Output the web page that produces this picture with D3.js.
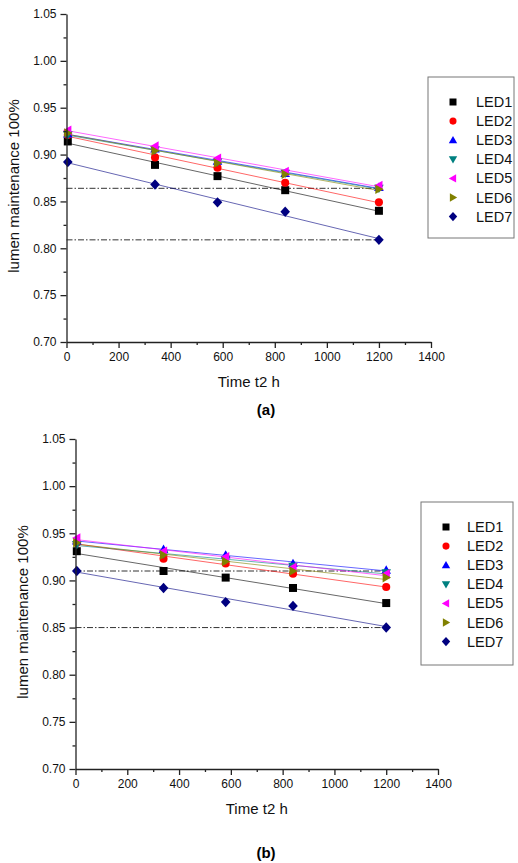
<!DOCTYPE html>
<html>
<head>
<meta charset="utf-8">
<script src="https://cdn.jsdelivr.net/npm/d3@7"></script>
<style>
  body { margin: 0; background: #fff; }
  svg { display: block; font-family: Arial, "Liberation Sans", sans-serif; }
  .axis path, .axis line { stroke: #222; stroke-width: 1.3; }
  .axis text { font-size: 12px; fill: #111; }
  .title { font-size: 15px; fill: #111; }
  .legend text { font-size: 14.5px; fill: #111; }
</style>
</head>
<body>
<div id="chart"></div>
<script>
// time points (h)
var times = [5, 340, 580, 840, 1200];
var ledNames = ["LED1", "LED2", "LED3", "LED4", "LED5", "LED6", "LED7"];
var ledColors = ["#000000", "#ff0000", "#0000ff", "#008080", "#ff00ff", "#808000", "#000080"];
var ledSymbols = ["square", "circle", "up", "down", "left", "right", "diamond"];

// panel (a)
var led1A = [0.914, 0.889, 0.877, 0.862, 0.840];
var led2A = [0.921, 0.897, 0.886, 0.870, 0.849];
var led3A = [0.922, 0.906, 0.893, 0.880, 0.865];
var led4A = [0.921, 0.905, 0.892, 0.880, 0.864];
var led5A = [0.926, 0.909, 0.896, 0.882, 0.867];
var led6A = [0.923, 0.904, 0.891, 0.879, 0.863];
var led7A = [0.892, 0.868, 0.849, 0.839, 0.809];
var limitsA = [0.864, 0.809];

// panel (b)
var led1B = [0.931, 0.910, 0.903, 0.892, 0.876];
var led2B = [0.940, 0.923, 0.918, 0.907, 0.893];
var led3B = [0.942, 0.933, 0.927, 0.918, 0.911];
var led4B = [0.938, 0.928, 0.922, 0.915, 0.908];
var led5B = [0.945, 0.931, 0.925, 0.914, 0.907];
var led6B = [0.940, 0.927, 0.920, 0.910, 0.903];
var led7B = [0.910, 0.892, 0.877, 0.873, 0.850];
var limitsB = [0.910, 0.850];

var xTicks = [0, 200, 400, 600, 800, 1000, 1200, 1400];
var xMinor = [100, 300, 500, 700, 900, 1100, 1300];
var yTicks = [0.70, 0.75, 0.80, 0.85, 0.90, 0.95, 1.00, 1.05];
var yMinor = [0.725, 0.775, 0.825, 0.875, 0.925, 0.975, 1.025];

var width = 518, height = 863;
var svg = d3.select("#chart").append("svg")
  .attr("width", width)
  .attr("height", height);
svg.append("rect").attr("width", width).attr("height", height).attr("fill", "#fff");

function symbolPath(kind, size) {
  var s = size;
  if (kind == "square") return `M${-s/2},${-s/2}h${s}v${s}h${-s}Z`;
  if (kind == "circle") return d3.symbol(d3.symbolCircle, s*s*0.8)();
  if (kind == "up") return `M0,${-s*0.6}L${s*0.6},${s*0.45}L${-s*0.6},${s*0.45}Z`;
  if (kind == "down") return `M0,${s*0.6}L${s*0.6},${-s*0.45}L${-s*0.6},${-s*0.45}Z`;
  if (kind == "left") return `M${-s*0.6},0L${s*0.45},${-s*0.6}L${s*0.45},${s*0.6}Z`;
  if (kind == "right") return `M${s*0.6},0L${-s*0.45},${-s*0.6}L${-s*0.45},${s*0.6}Z`;
  if (kind == "diamond") return `M0,${-s*0.65}L${s*0.6},0L0,${s*0.65}L${-s*0.6},0Z`;
}

function fit(xs, ys) {
  var mx = d3.mean(xs), my = d3.mean(ys);
  var num = d3.sum(xs, (x, i) => (x - mx) * (ys[i] - my));
  var den = d3.sum(xs, x => (x - mx) * (x - mx));
  var b = num / den;
  return { a: my - b * mx, b: b };
}

function drawPanel(p) {
  var x = d3.scaleLinear().domain([0, 1400]).range([p.left, p.right]);
  var y = d3.scaleLinear().domain([0.70, 1.05]).range([p.bottom, p.top]);
  var g = svg.append("g");

  // dash-dot limit lines
  g.selectAll("line.limit")
    .data(p.limits)
    .enter()
    .append("line")
    .attr("class", "limit")
    .attr("x1", x(0)).attr("x2", x(1200))
    .attr("y1", d => y(d)).attr("y2", d => y(d))
    .attr("stroke", "#333")
    .attr("stroke-width", 1)
    .attr("stroke-dasharray", "6,2,1.5,2");

  // fitted lines
  p.series.forEach((vals, i) => {
    var f = fit(times, vals);
    g.append("line")
      .attr("x1", x(0)).attr("y1", y(f.a))
      .attr("x2", x(1200)).attr("y2", y(f.a + f.b * 1200))
      .attr("stroke", ledColors[i])
      .attr("stroke-opacity", 0.6)
      .attr("stroke-width", 1);
  });

  // markers
  p.series.forEach((vals, i) => {
    g.selectAll(null)
      .data(vals)
      .enter()
      .append("path")
      .attr("d", symbolPath(ledSymbols[i], 8))
      .attr("transform", (d, j) => `translate(${x(times[j])},${y(d)})`)
      .attr("fill", ledColors[i]);
  });

  // axes
  g.append("g").attr("class", "axis")
    .attr("transform", `translate(0,${p.bottom})`)
    .call(d3.axisBottom(x).tickValues(xMinor).tickSize(3).tickFormat(""))
    .select(".domain").remove();
  g.append("g").attr("class", "axis")
    .attr("transform", `translate(0,${p.bottom})`)
    .call(d3.axisBottom(x).tickValues(xTicks).tickSize(6).tickSizeOuter(0).tickPadding(4).tickFormat(d3.format("d")));
  g.append("g").attr("class", "axis")
    .attr("transform", `translate(${p.left},0)`)
    .call(d3.axisLeft(y).tickValues(yMinor).tickSize(3).tickFormat(""))
    .select(".domain").remove();
  g.append("g").attr("class", "axis")
    .attr("transform", `translate(${p.left},0)`)
    .call(d3.axisLeft(y).tickValues(yTicks).tickSize(6).tickSizeOuter(0).tickPadding(4).tickFormat(d3.format(".2f")));

  // titles
  g.append("text").attr("class", "title")
    .attr("x", (p.left + p.right) / 2).attr("y", p.bottom + 45)
    .attr("text-anchor", "middle")
    .text("Time t2 h");
  g.append("text").attr("class", "title")
    .attr("transform", `translate(${p.left - 48},${(p.top + p.bottom) / 2 + 8}) rotate(-90)`)
    .attr("text-anchor", "middle")
    .text("lumen maintenance 100%");
  g.append("text")
    .attr("x", 266).attr("y", p.labelY)
    .attr("text-anchor", "middle")
    .style("font-size", "15px").style("font-weight", "bold")
    .text(p.label);

  // legend
  var lg = g.append("g").attr("class", "legend");
  lg.append("rect")
    .attr("x", p.legend.x).attr("y", p.legend.y)
    .attr("width", p.legend.w).attr("height", p.legend.h)
    .attr("fill", "none").attr("stroke", "#777").attr("stroke-width", 1);
  var items = lg.selectAll("g.item")
    .data(ledNames)
    .enter()
    .append("g")
    .attr("class", "item")
    .attr("transform", (d, i) => `translate(${p.legend.x},${p.legend.y + 25 + i * 19.1})`);
  items.append("path")
    .attr("d", (d, i) => symbolPath(ledSymbols[i], 7))
    .attr("transform", `translate(${p.legend.mx},0)`)
    .attr("fill", (d, i) => ledColors[i]);
  items.append("text")
    .attr("x", p.legend.tx).attr("y", 5)
    .text(d => d);
}

drawPanel({
  left: 66.5, right: 431, top: 14, bottom: 342,
  series: [led1A, led2A, led3A, led4A, led5A, led6A, led7A],
  limits: limitsA, label: "(a)", labelY: 415,
  legend: { x: 428, y: 77, w: 86, h: 161, mx: 25, tx: 48 }
});
drawPanel({
  left: 75.5, right: 438, top: 439, bottom: 769,
  series: [led1B, led2B, led3B, led4B, led5B, led6B, led7B],
  limits: limitsB, label: "(b)", labelY: 858,
  legend: { x: 421, y: 502, w: 92, h: 163, mx: 25, tx: 46 }
});
</script>
</body>
</html>
